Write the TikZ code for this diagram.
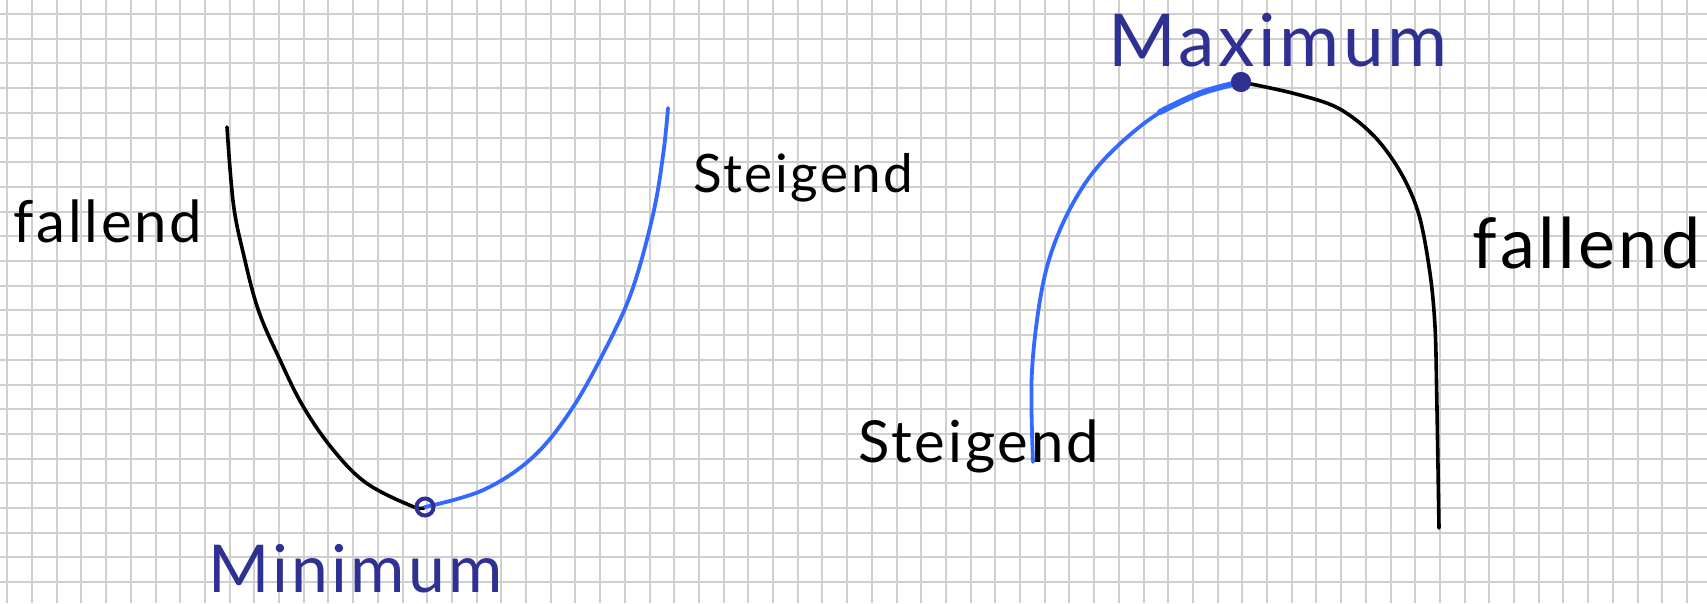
\documentclass[tikz,border=0pt]{standalone}
\usepackage{fontspec}
\newfontfamily\hand[LetterSpace=5]{Lato}
\definecolor{gridgray}{HTML}{CFCFCF}
\definecolor{penblue}{HTML}{3369FF}
\definecolor{inkblue}{HTML}{2E3192}
\begin{document}
\begin{tikzpicture}[x=1pt,y=-1pt,
  blackcurve/.style={draw=black,line width=3.6pt,line cap=round,line join=round},
  bluecurve/.style={draw=penblue,line width=3.8pt,line cap=round,line join=round},
  txt/.style={inner sep=0pt,anchor=base west},
  ringdot/.style={circle,minimum size=18pt,inner sep=0pt},
  filldot/.style={circle,fill=inkblue,minimum size=20pt,inner sep=0pt}]
\fill[white] (0,0) rectangle (1707,603);
\useasboundingbox (0,0) rectangle (1707,603);
% grid
\foreach \gx in {7.3,32.0,...,1700} \draw[gridgray,line width=2pt] (\gx,0) -- (\gx,603);
\foreach \gy in {14.0,38.7,...,600} \draw[gridgray,line width=2pt] (0,\gy) -- (1707,\gy);
% named points
\coordinate (uTop) at (227,127);
\coordinate (uRight) at (668,108);
\coordinate (aLeft) at (1033,462);
\coordinate (aRight) at (1439,528);
\node[ringdot] (min) at (425,507) {};
\node[filldot] (max) at (1241,82) {};
% U curve
\draw[blackcurve] plot[smooth,tension=0.6] coordinates {(uTop) (233.3,203.3) (243.3,253.3) (258.3,310) (280,360) (303.3,406.7) (333.3,450) (366.7,483.3) (413.3,506.7) (min.center)};
\draw[bluecurve] plot[smooth,tension=0.6] coordinates {(min.center) (483.3,490) (533.3,456.7) (573.3,406.7) (610,340) (633.3,286.7) (653.3,213.3) (663.3,153.3) (uRight)};
% arch
\draw[bluecurve] plot[smooth,tension=0.6] coordinates {(aLeft) (1031.7,376.7) (1040,300) (1053.3,246.7) (1076.7,196.7) (1106.7,156.7) (1153.3,116.7) (1200,93.3) (max.center)};
\draw[penblue,line width=6pt,line cap=round] plot[smooth,tension=0.6] coordinates {(1160,112) (1200,93.3) (max.center)};
\draw[blackcurve] plot[smooth,tension=0.55] coordinates {(max.center) (1293.3,93.3) (1338,108) (1374,136) (1401,173) (1419,215) (1430,273.3) (1435,326.7) (1436.7,393.3) (aRight)};
% dots on top
\draw[inkblue,line width=4pt] (min) circle (8.5pt);
\fill[inkblue] (max) circle (10pt);
% labels
\node[txt,font=\hand\fontsize{58}{60}\selectfont] (lfall) at (13,242) {fallend};
\node[txt,font=\hand\fontsize{53}{60}\selectfont] (lsteig) at (693,192) {Steigend};
\node[txt,font=\hand\fontsize{66}{60}\selectfont,text=inkblue] (lmin) at (208,592) {Minimum};
\node[txt,font=\hand\fontsize{73}{60}\selectfont,text=inkblue] (lmax) at (1108,66) {Maximum};
\node[txt,font=\hand\fontsize{58}{60}\selectfont] (asteig) at (858,462) {Steigend};
\node[txt,font=\hand\fontsize{70}{60}\selectfont] (afall) at (1472,268) {fallend};
\end{tikzpicture}
\end{document}
